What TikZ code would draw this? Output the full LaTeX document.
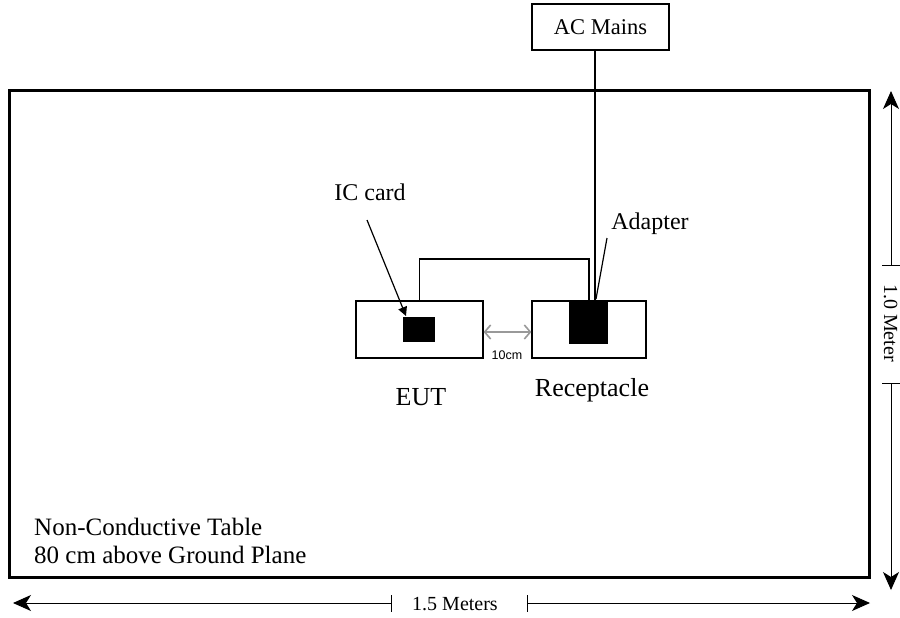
\documentclass[tikz,border=0pt]{standalone}
\usepackage{fontspec}
\setmainfont{Liberation Serif}
\newfontfamily\sansf{Liberation Sans}
\usetikzlibrary{arrows.meta}
\begin{document}
\begin{tikzpicture}[x=1pt,y=-1pt,
  tablebox/.style={draw,line width=3pt},
  box/.style={draw,line width=1.2pt,inner sep=0pt,fill=white},
  blk/.style={fill=black,inner sep=0pt},
  lbl/.style={font=\fontsize{24}{28}\selectfont,inner sep=0pt},
  biglbl/.style={font=\fontsize{26}{30}\selectfont,inner sep=0pt},
  dimlbl/.style={font=\fontsize{20}{24}\selectfont,inner sep=0pt},
  wire/.style={line width=1.3pt},
  dimline/.style={line width=1pt,-{Stealth[length=18pt,width=16pt,inset=5pt]}},
  tick/.style={line width=1pt},
  gaparrow/.style={line width=1.3pt,draw=black!40,{Straight Barb[length=6pt,width=14pt,line width=1.6pt]}-{Straight Barb[length=6pt,width=14pt,line width=1.6pt]}}
]
\path[use as bounding box] (0,0) rectangle (900,618);
% table
\draw[tablebox] (9,91) rectangle (869,577);
% AC mains
\node[box,minimum width=137pt,minimum height=46pt,font=\fontsize{22.5}{26}\selectfont] (ac) at (600.5,27) {AC Mains};
% devices
\node[box,minimum width=127pt,minimum height=57pt] (eut) at (419.5,329.5) {};
\node[box,minimum width=114pt,minimum height=57pt] (rec) at (589,329.5) {};
\node[blk,minimum width=32pt,minimum height=25pt] (ic) at (419,329.5) {};
\node[blk,minimum width=39pt,minimum height=43pt] (adp) at (588.5,322.5) {};
% AC line
\coordinate (acx) at (595,0);
\draw[wire] (ac.south -| acx) -- (adp.north -| acx);
% cable
\coordinate (cabtop) at (589,259);
\draw[wire] (eut.north) |- (cabtop) -- (cabtop |- adp.north);
% labels
\node[lbl] (iclbl) at (370,192) {IC card};
\node[lbl] (adlbl) at (650,224) {Adapter};
\node[biglbl] (eutlbl) at (421,397) {EUT};
\node[biglbl] (reclbl) at (592,390) {Receptacle};
\node[anchor=west,align=left,font=\fontsize{25}{28}\selectfont,inner sep=0pt] (tbl) at (34,541) {Non-Conductive Table\\80 cm above Ground Plane};
% pointers
\coordinate (icstart) at (367,220);
\coordinate (icend) at (406,316);
\draw[line width=1.2pt,-{Triangle[length=9pt,width=9pt]}] (icstart) -- (icend);
\coordinate (adstart) at (607,238);
\coordinate (adend) at (596,299);
\draw[line width=1.2pt] (adstart) -- (adend);
% gap arrow
\draw[gaparrow] ([yshift=-2.5pt]eut.east) -- ([yshift=-2.5pt]rec.west);
\node[font=\sansf\fontsize{12.5}{14}\selectfont,inner sep=0pt] (gap) at (507,355) {10cm};
% vertical dimension
\node[dimlbl,rotate=-90,anchor=base] (vlbl) at (884,323) {1.0 Meter};
\coordinate (vt1a) at (882,265); \coordinate (vt1b) at (900,265);
\coordinate (vt2a) at (882,383); \coordinate (vt2b) at (900,383);
\coordinate (vtop) at (891,91);
\coordinate (vbot) at (891,590);
\draw[tick] (vt1a) -- (vt1b);
\draw[tick] (vt2a) -- (vt2b);
\draw[dimline] (vt1a -| vtop) -- (vtop);
\draw[dimline] (vt2a -| vbot) -- (vbot);
% horizontal dimension
\node[dimlbl] (hlbl) at (455,604) {1.5 Meters};
\coordinate (ht1a) at (391,595); \coordinate (ht1b) at (391,612);
\coordinate (ht2a) at (527,595); \coordinate (ht2b) at (527,612);
\coordinate (hleft) at (13,603);
\coordinate (hright) at (870,603);
\draw[tick] (ht1a) -- (ht1b);
\draw[tick] (ht2a) -- (ht2b);
\draw[dimline] (ht1a |- hleft) -- (hleft);
\draw[dimline] (ht2a |- hright) -- (hright);
\end{tikzpicture}
\end{document}
